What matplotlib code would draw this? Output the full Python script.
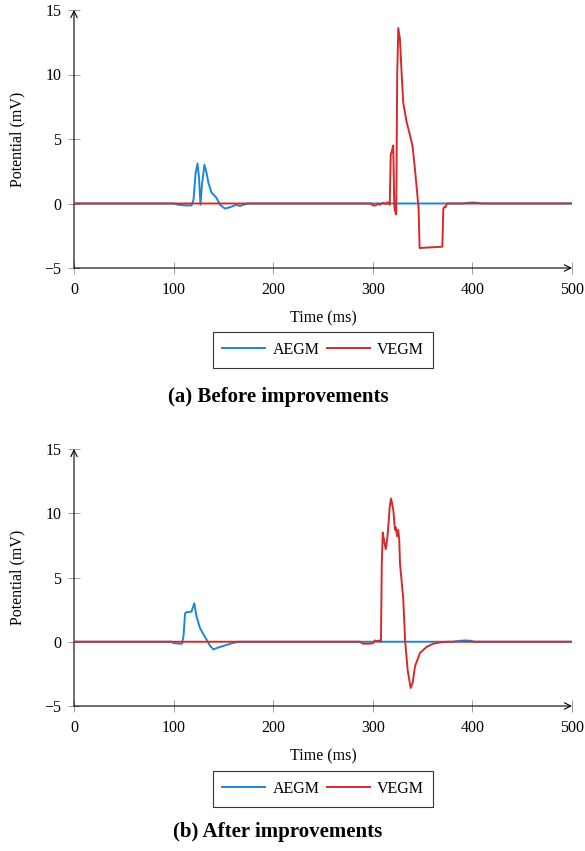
import matplotlib
matplotlib.use("Agg")
import matplotlib.pyplot as plt

plt.rcParams['font.family'] = ['Liberation Serif', 'DejaVu Serif']
plt.rcParams['font.size'] = 11.5

# (a) before improvements
t_a_aegm = [0, 100, 105, 112, 118, 120, 122, 124, 125.5, 127, 128.5, 131, 133, 135, 138, 143,
            146.6, 151.6, 158, 163, 166.7, 170, 175, 390, 395, 400, 405, 410, 500]
v_a_aegm = [0, 0, -0.1, -0.15, -0.15, 0.3, 2.3, 3.1, 2.0, -0.1, 1.5, 3.0, 2.4, 1.6, 0.85, 0.45,
            -0.1, -0.4, -0.25, -0.1, -0.2, -0.1, 0, 0, 0.05, 0.08, 0.05, 0, 0]
t_a_vegm = [0, 298, 300, 303, 305, 307, 309, 311, 313, 315, 317, 318, 319, 320.5, 321.5, 322,
            323.5, 324.5, 325.6, 327.3, 329, 330.6, 334, 337.3, 340, 342.4, 344.7, 346, 347,
            358, 369.8, 370.8, 372, 373, 374.5, 500]
v_a_vegm = [0, 0, -0.15, -0.15, 0, -0.1, 0, 0.05, -0.05, 0.1, -0.1, 3.8, 4.0, 4.5, 0.0, -0.5,
            -0.85, 10, 13.6, 12.7, 10, 7.8, 6.3, 5.3, 4.4, 2.6, 0.7, -0.4, -3.45,
            -3.4, -3.35, -0.4, -0.25, -0.3, 0, 0]

# (b) after improvements
t_b_aegm = [0, 98, 100, 105, 108.5, 110, 111.5, 113, 115, 118, 119.5, 120.8, 123, 126.5, 129.8,
            133, 136.5, 139.9, 145, 151.6, 158, 165, 380, 385, 392, 398, 402, 500]
v_b_aegm = [0, 0, -0.1, -0.15, -0.15, 0.5, 2.2, 2.3, 2.3, 2.35, 2.7, 2.98, 1.97, 1.06, 0.6,
            0.18, -0.3, -0.6, -0.44, -0.29, -0.13, 0, 0, 0.05, 0.1, 0.08, 0, 0]
t_b_vegm = [0, 287, 290, 296, 300, 302, 304, 307, 308.2, 309, 310, 311.5, 313, 314.5, 315.6,
            317, 318.3, 320.6, 322.3, 323, 324.5, 325.5, 326.5, 327.3, 330.6, 332.5, 335, 338,
            340, 342.4, 347.4, 354, 360.7, 367.5, 375, 500]
v_b_vegm = [0, 0, -0.15, -0.15, -0.12, 0.1, 0.05, 0.1, 0.0, 6.0, 8.5, 7.8, 7.2, 8.0, 9.0,
            10.5, 11.15, 10.25, 8.7, 8.9, 8.2, 8.7, 8.0, 6.1, 3.3, 0.0, -2.2, -3.6,
            -3.2, -1.9, -0.87, -0.4, -0.15, -0.05, 0, 0]

x_ticks = [0, 100, 200, 300, 400, 500]
y_ticks = [-5, 0, 5, 10, 15]
blue = '#1a88d4'
red = '#d42a2a'

W, H = 585, 851
fig = plt.figure(figsize=(W / 100, H / 100), dpi=100)


def panel(top_px, bottom_px, aegm, vegm, legend_y, title, title_y):
    ax = fig.add_axes([74 / W, 1 - bottom_px / H, (572 - 74) / W, (bottom_px - top_px) / H])
    ax.plot(aegm[0], aegm[1], color=blue, lw=1.4, label='AEGM', zorder=3)
    ax.plot(vegm[0], vegm[1], color=red, lw=1.4, label='VEGM', zorder=4)
    ax.set_xlim(0, 500)
    ax.set_ylim(-5, 15)
    ax.set_xticks(x_ticks)
    ax.set_yticks(y_ticks)
    ax.set_yticklabels(['\u22125', '0', '5', '10', '15'])
    ax.tick_params(direction='inout', length=8, width=0.6, color='0.55')
    ax.tick_params(axis='x', pad=6)
    ax.tick_params(axis='y', pad=5)
    for s in ax.spines.values():
        s.set_visible(False)
    ax.annotate('', xy=(1, 0), xytext=(0, 0), xycoords='axes fraction',
                arrowprops=dict(arrowstyle='->', lw=0.8, color='black', shrinkA=0, shrinkB=0))
    ax.annotate('', xy=(0, 1), xytext=(0, 0), xycoords='axes fraction',
                arrowprops=dict(arrowstyle='->', lw=0.8, color='black', shrinkA=0, shrinkB=0))
    ax.set_xlabel('Time (ms)', labelpad=9)
    ax.set_ylabel('Potential (mV)', labelpad=14)
    leg = ax.legend(loc='center', bbox_to_anchor=(323 / W, 1 - legend_y / H),
                    bbox_transform=fig.transFigure, ncol=2, frameon=True, fancybox=False,
                    edgecolor='black', handlelength=2.7, handletextpad=0.45,
                    columnspacing=0.45, borderpad=0.6)
    leg.get_frame().set_linewidth(0.8)
    fig.text(278 / W, 1 - title_y / H, title, ha='center', va='center',
             fontsize=15, fontweight='bold')
    return ax


panel(10, 268, (t_a_aegm, v_a_aegm), (t_a_vegm, v_a_vegm), 350,
      '(a) Before improvements', 397)
panel(449, 706, (t_b_aegm, v_b_aegm), (t_b_vegm, v_b_vegm), 789,
      '(b) After improvements', 832)

fig.savefig('out.png', dpi=100)
